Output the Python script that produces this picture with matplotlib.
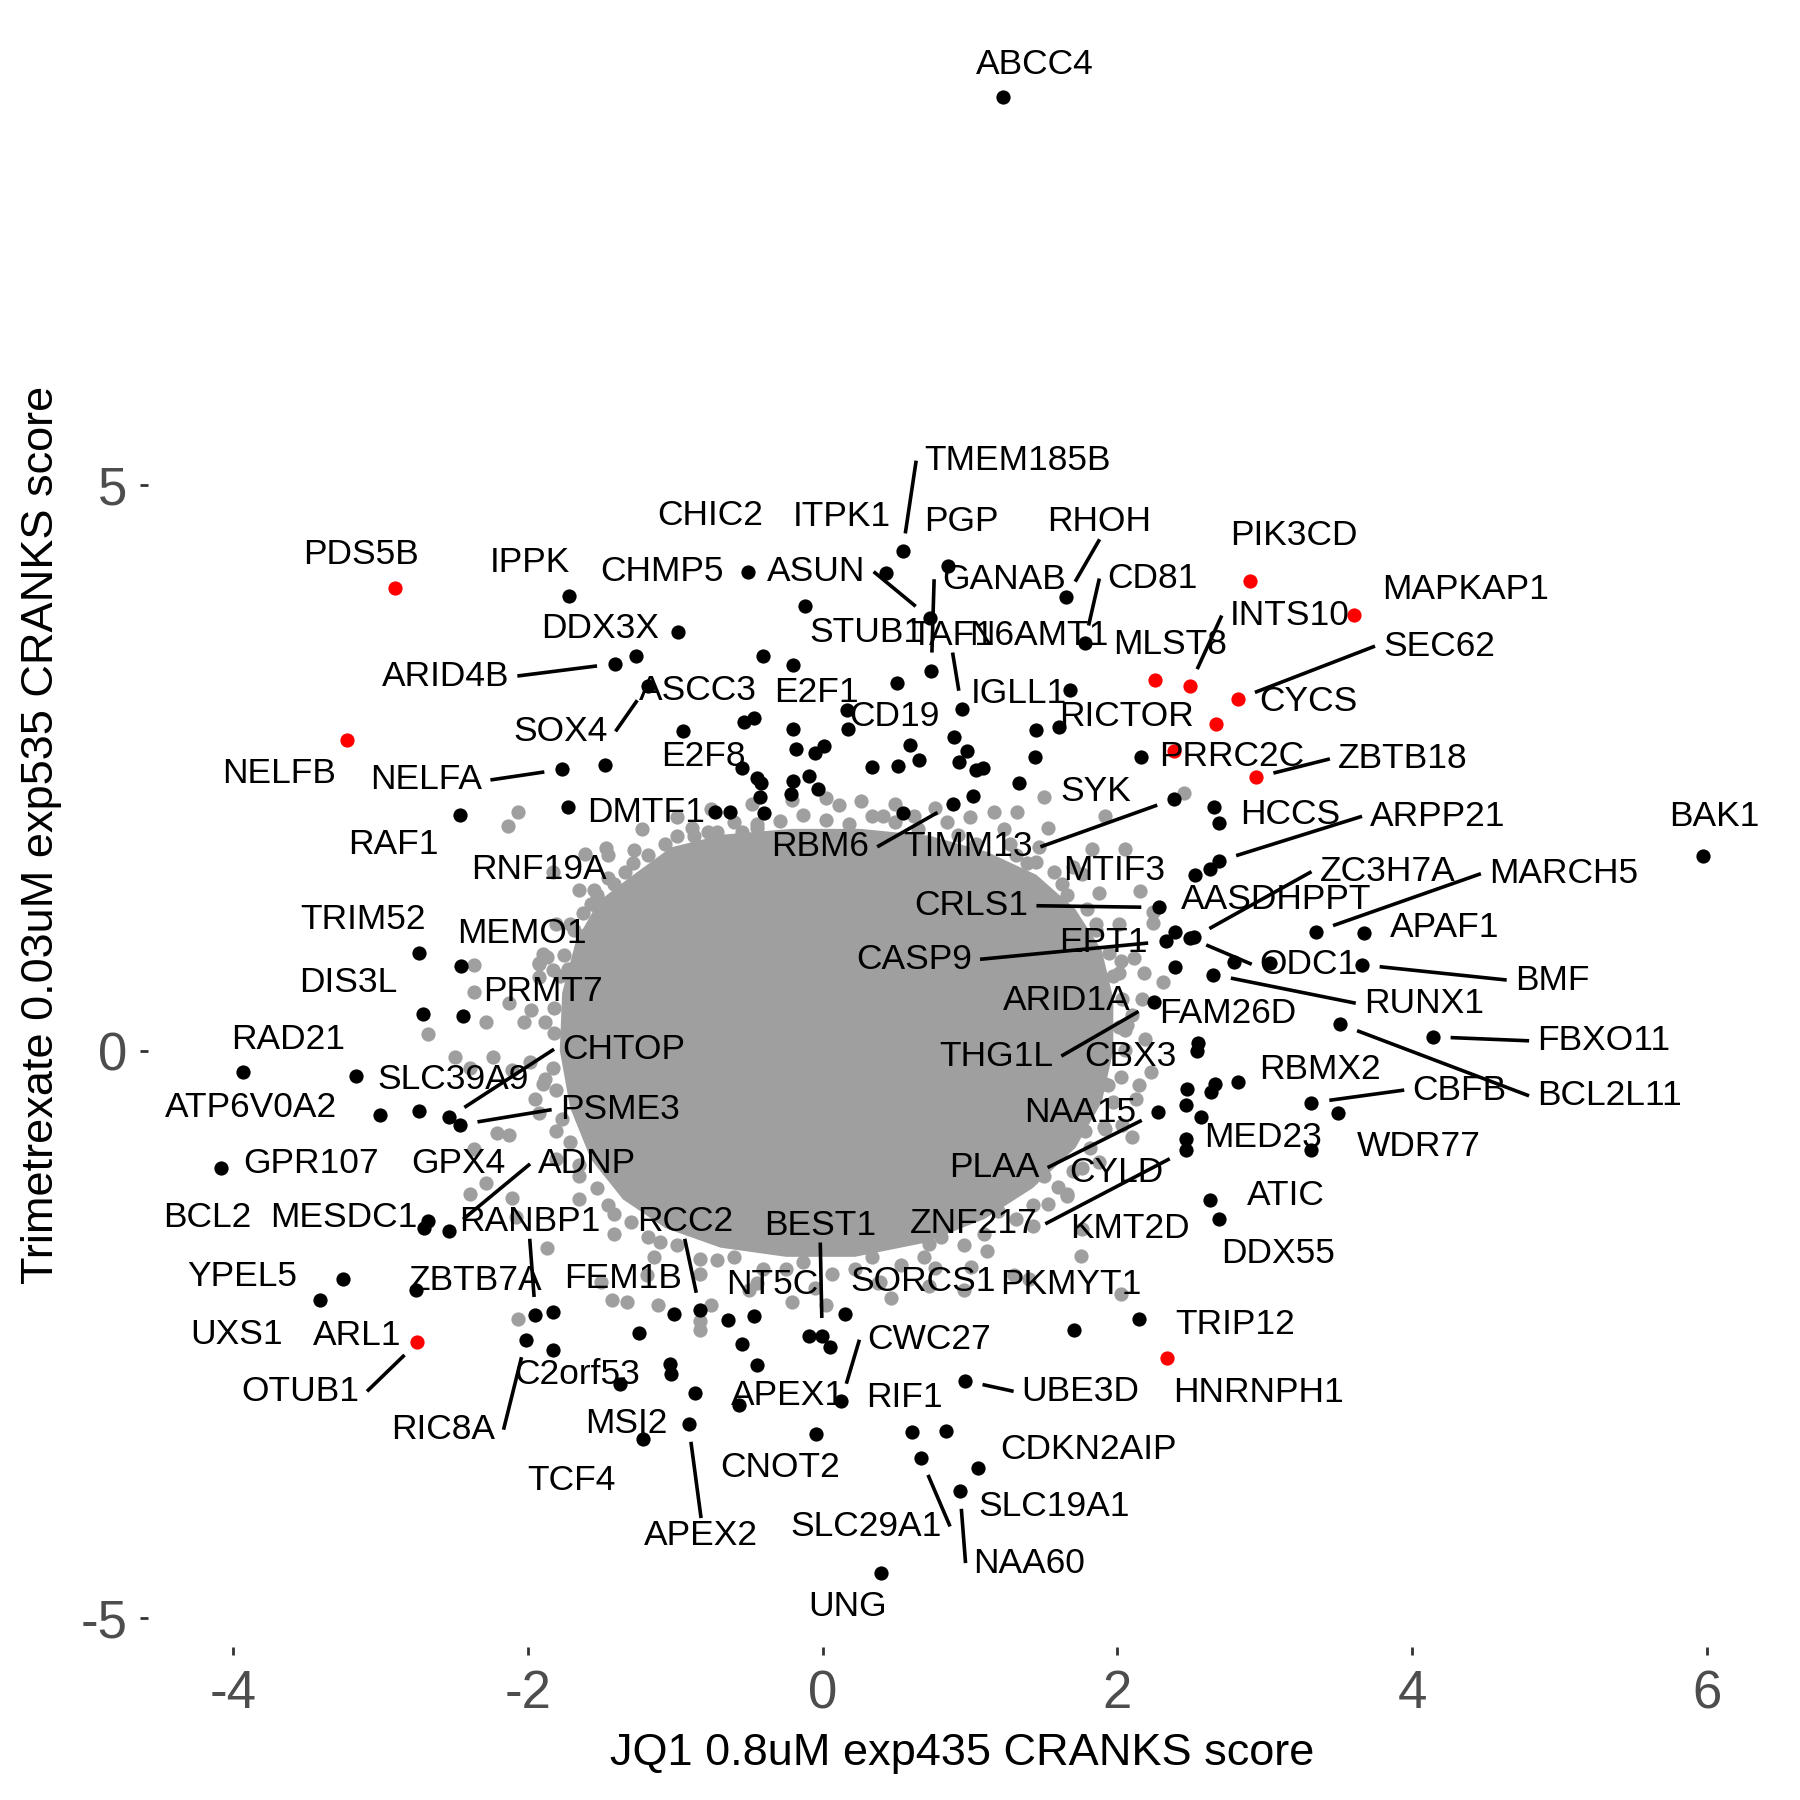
import math
import matplotlib
matplotlib.use("Agg")
import matplotlib.pyplot as plt

# outline of the solid centre of the gray cloud
core_x = [-1.317, -1.029, -0.678, -0.210, 0.257, 0.725, 1.115, 1.450, 1.715, 1.894, 1.972, 1.972, 1.894,
          1.715, 1.426, 1.099, 0.686, 0.218, -0.249, -0.694, -1.068, -1.356, -1.574, -1.715, -1.785,
          -1.769, -1.676, -1.520]
core_y = [1.530, 1.803, 1.915, 1.966, 1.966, 1.905, 1.763, 1.560, 1.256, 0.892, 0.466, 0.010, -0.446,
          -0.851, -1.206, -1.479, -1.692, -1.814, -1.814, -1.733, -1.560, -1.307, -0.952, -0.496, 0.010,
          0.517, 0.973, 1.327]

# gray (non-hit) genes around the edge of the cloud
gray_x = [-2.067, -2.139, -1.617, -1.469, -1.280, -1.106, -0.885, -0.781, -0.677, -0.547, -1.833, -1.574,
          -1.521, -1.404, -1.301, -1.288, -1.613, -1.898, -1.924, -2.365, -1.729, -1.664, 1.503, 2.451,
          1.165, 1.321, 1.528, 1.918, 1.828, 2.048, 2.152, 2.243, 2.243, 0.113, 0.412, 0.620, -0.446,
          -0.680, 1.450, 1.762, 2.023, 2.178, 2.308, 2.100, 2.048, 2.230, 1.918, 2.126, 2.100, 1.918,
          1.684, 1.762, 1.659, 1.528, 1.762, 1.750, 2.023, 1.295, 1.399, 1.009, 0.957, 0.723, 0.386,
          0.464, 0.022, -0.212, -0.498, -0.758, -0.836, 0.581, 0.723, -1.872, -1.924, -2.365, -2.132,
          -2.028, -2.288, -2.677, -2.496, -2.392, -2.236, -2.106, -1.898, -1.950, -2.210, -2.132, -2.365,
          -2.392, -2.288, -2.106, -2.081, -1.872, -2.067, -1.430, -1.327, -1.118, -0.833, -1.196, -1.508,
          -1.341, -1.068, -0.717, -0.288, 0.179, 0.647, 1.037, 1.387, 1.660, 1.855, 1.972, 2.011, 1.933,
          1.777, 1.504, 1.192, 0.803, 0.335, -0.132, -0.600, -0.990, -1.302, -1.535, -1.715, -1.808,
          -1.824, -1.785, -1.691, -1.535,
          -1.457, -1.224, -0.990, -0.756, -0.483, -0.210, 0.023, 0.257, 0.491, 0.764, 0.998, 1.231, 1.465,
          1.699, 1.878, 2.011, 2.112, 2.167, 2.190, 2.143, 2.034, 1.878, 1.660, 1.426, 1.115, 0.764,
          0.374, -0.055, -0.444, -0.834, -1.146, -1.419, -1.652, -1.808, -1.925, -1.987, -1.980, -1.925,
          -1.808, -1.652,
          -1.286, -0.990, -0.600, -0.132, 0.335, 0.842, 1.270, 1.567, 1.793, 1.941, 2.034, 2.050, 1.972,
          1.816, 1.598, 1.309, 0.959, 0.530, 0.062, -0.405, -0.834, -1.185, -1.457, -1.652, -1.769,
          -1.832, -1.824, -1.754, -1.629, -1.457,
          -1.418, -1.185, -0.873, -0.444, 0.023, 0.491, 0.920, 1.309, 1.621, 1.855, 2.011, 2.065, 2.026,
          1.910, 1.699, 1.426, 1.091, 0.686, 0.218, -0.249, -0.717, -1.107, -1.419, -1.652, -1.808,
          -1.886, -1.886, -1.832, -1.715, -1.551]
gray_y = [2.118, 1.993, 1.746, 1.800, 1.780, 1.570, 1.976, 1.942, 1.800, 1.942, 1.588, 1.300,
          1.249, 1.334, 1.165, 1.436, 1.030, 0.861, 0.777, 0.760, 0.726, 0.709, 2.246, 2.287,
          2.111, 2.111, 1.976, 2.077, 1.790, 1.790, 1.418, 1.233, 1.132, 2.178, 2.077, 2.077, 1.976,
          1.807, 1.672, 1.570, 0.797, 0.696, 0.611, 0.324, 0.189, -0.182, -0.284, -0.418, -0.757, -0.689,
          -0.757, -1.026, -1.263, -1.348, -1.567, -1.803, -2.141, -1.973, -2.006, -1.905, -2.107, -2.074, -2.040,
          -2.175, -2.242, -2.209, -2.107, -2.242, -2.378, -1.601, -1.702, 0.831, 0.662, 0.527, 0.426,
          0.256, 0.256, 0.155, -0.048, -0.149, -0.048, -0.165, -0.284, -0.418, -0.722, -0.740, -0.858,
          -1.263, -1.162, -1.297, -1.466, -1.736, -2.361, -2.192, -2.209, -2.242, -2.462, -1.973, -2.040,
          1.581, 1.834, 1.935, 2.037, 2.006, 1.966, 1.834, 1.662, 1.378, 1.074, 0.669, 0.213, -0.294,
          -0.699, -1.104, -1.408, -1.641, -1.814, -1.864, -1.814, -1.712, -1.510, -1.206, -0.800, -0.344,
          0.162, 0.669, 1.074, 1.378,
          1.733, 1.966, 2.067, 2.138, 2.189, 2.219, 2.239, 2.209, 2.189, 2.148, 2.067, 1.966, 1.803,
          1.631, 1.398, 1.125, 0.821, 0.466, 0.111, -0.294, -0.648, -0.973, -1.277, -1.540, -1.763, -1.915,
          -2.047, -2.087, -2.047, -1.966, -1.814, -1.611, -1.307, -0.952, -0.547, -0.091, 0.365, 0.770,
          1.125, 1.429,
          1.662, 1.905, 2.026, 2.087, 2.077, 2.026, 1.834, 1.581, 1.256, 0.871, 0.466, 0.010, -0.446,
          -0.851, -1.196, -1.479, -1.712, -1.885, -1.966, -1.925, -1.834, -1.641, -1.358, -1.003, -0.598,
          -0.142, 0.385, 0.851, 1.226, 1.530,
          1.479, 1.733, 1.905, 2.006, 2.047, 2.026, 1.915, 1.733, 1.479, 1.125, 0.689, 0.233, -0.223,
          -0.669, -1.054, -1.358, -1.611, -1.814, -1.925, -1.925, -1.844, -1.682, -1.439, -1.104, -0.699,
          -0.243, 0.263, 0.719, 1.125, 1.429]

# hit genes
black_x = [1.224, 0.542, 0.429, 0.850, -0.507, -1.722, -0.121, 0.725, 1.652, 1.777, -0.982, -1.267,
           -1.411, -0.405, -0.199, 0.737, -1.189, 0.503, 0.943, 1.680, 0.164, -0.538, -0.464, -0.951,
           -0.199, 0.171, 1.446, 1.606, 0.889, 0.592, 0.008, -0.179, 0.982, -0.055, 0.655, 1.438,
           2.159, 0.335, 0.511, 0.927, 1.037, 1.087, -0.549, -1.481, -1.769, -0.448, -0.417, -0.199,
           -0.094, -0.035, -0.218, -0.425, 1.333, 1.021, -1.730, -0.733, -0.633, -0.397, -2.459, 0.542,
           0.885, 2.385, 2.658, 2.689, 2.689, 2.627, 2.529, 5.975, 2.284, 2.393, 2.330, 2.490,
           2.517, 2.393, 2.650, 2.790, 3.036, 3.348, 3.671, 3.658, 3.512, 4.139, 2.249, 2.549,
           2.541, 2.819, 2.663, 2.634, 2.469, 2.463, 2.564, 2.274, 2.463, 2.463, 3.317, 3.500,
           3.317, 2.628, 2.689, 1.705, 2.147, 0.965, 0.125, -0.095, -0.004, 0.048, 0.152, -0.048,
           0.606, 0.835, 0.666, 1.056, 0.931, 0.397, -0.641, -0.464, -0.549, -0.446, -0.567, -0.833,
           -1.007, -1.249, -1.040, -1.028, -1.379, -0.867, -0.911, -1.217, -1.833, -1.950, -2.015, -1.833,
           -2.761, -3.254, -3.410, -2.677, -2.704, -2.535, -4.086, -3.932, -3.166, -3.002, -2.743, -2.535,
           -2.464, -2.712, -2.443, -2.743, -2.457]
black_y = [8.430, 4.418, 4.225, 4.286, 4.235, 4.022, 3.931, 3.830, 4.012, 3.607, 3.708, 3.496,
           3.425, 3.496, 3.414, 3.364, 3.232, 3.252, 3.029, 3.192, 3.019, 2.908, 2.948, 2.827,
           2.847, 2.847, 2.837, 2.867, 2.776, 2.705, 2.695, 2.675, 2.655, 2.634, 2.574, 2.604,
           2.604, 2.513, 2.523, 2.553, 2.482, 2.503, 2.503, 2.533, 2.492, 2.411, 2.371, 2.391,
           2.432, 2.320, 2.270, 2.249, 2.371, 2.259, 2.158, 2.118, 2.118, 2.107, 2.087, 2.107,
           2.189, 2.229, 2.158, 2.016, 1.682, 1.611, 1.560, 1.722, 1.272, 1.054, 0.973, 1.003,
           1.008, 0.750, 0.679, 0.790, 0.780, 1.059, 1.049, 0.765, 0.240, 0.129, 0.433, 0.071,
           0.000, -0.274, -0.291, -0.360, -0.334, -0.469, -0.583, -0.537, -0.773, -0.874, -0.453, -0.544,
           -0.874, -1.314, -1.484, -2.462, -2.361, -2.908, -3.087, -2.513, -2.513, -2.614, -2.317, -3.381,
           -3.364, -3.351, -3.594, -3.678, -3.881, -4.610, -2.368, -2.335, -2.581, -2.766, -3.121, -2.287,
           -2.320, -2.489, -2.759, -2.850, -2.935, -3.019, -3.290, -3.425, -2.303, -2.327, -2.546, -2.637,
           -2.107, -2.006, -2.199, -1.500, -1.560, -1.584, -1.033, -0.182, -0.216, -0.560, -0.530, -0.581,
           -0.648, 0.334, 0.314, 0.871, 0.753]

# highlighted genes
red_x = [-2.901, -3.231, 2.897, 3.603, 2.256, 2.490, 2.819, 2.667, 2.385, 2.940, -2.751, 2.339]
red_y = [4.090, 2.749, 4.154, 3.853, 3.283, 3.232, 3.114, 2.892, 2.655, 2.420, -2.570, -2.708]

label_names = ["ABCC4", "TMEM185B", "CHIC2", "ITPK1", "PGP", "RHOH", "PIK3CD", "PDS5B", "IPPK", "CHMP5",
               "ASUN", "GANAB", "CD81", "MAPKAP1", "INTS10", "DDX3X", "STUB1", "TAF1", "N6AMT1", "MLST8",
               "SEC62", "ARID4B", "ASCC3", "E2F1", "IGLL1", "CYCS", "CD19", "RICTOR", "SOX4", "E2F8",
               "PRRC2C", "ZBTB18", "NELFB", "NELFA", "SYK", "DMTF1", "HCCS", "ARPP21", "BAK1", "RAF1",
               "RBM6", "TIMM13", "RNF19A", "MTIF3", "ZC3H7A", "MARCH5", "AASDHPPT", "CRLS1", "TRIM52",
               "APAF1", "MEMO1", "EPT1", "CASP9", "ODC1", "BMF", "DIS3L", "PRMT7", "ARID1A", "RUNX1",
               "FAM26D", "RAD21", "FBXO11", "CHTOP", "THG1L", "CBX3", "SLC39A9", "RBMX2", "CBFB",
               "BCL2L11", "ATP6V0A2", "PSME3", "NAA15", "MED23", "WDR77", "GPR107", "GPX4", "ADNP",
               "PLAA", "CYLD", "ATIC", "BCL2", "MESDC1", "RANBP1", "RCC2", "ZNF217", "BEST1", "KMT2D",
               "DDX55", "YPEL5", "FEM1B", "ZBTB7A", "NT5C", "SORCS1", "PKMYT1", "TRIP12", "UXS1", "ARL1",
               "CWC27", "C2orf53", "OTUB1", "HNRNPH1", "UBE3D", "APEX1", "RIF1", "MSI2", "RIC8A",
               "CDKN2AIP", "CNOT2", "TCF4", "SLC19A1", "SLC29A1", "APEX2", "NAA60", "UNG"]
label_x = [1.442, 1.321, -0.764, 0.131, 0.944, 1.879, 3.196, -3.133, -1.987, -1.091,
           -0.043, 1.230, 2.238, 4.365, 3.169, -1.508, 0.296, 0.881, 1.465, 2.360,
           4.182, -2.560, -0.846, -0.043, 1.334, 3.299, 0.489, 2.062, -1.781, -0.807,
           2.775, 3.936, -3.687, -2.690, 1.853, -1.196, 3.169, 4.174, 6.053, -2.911,
           -0.017, 0.983, -1.924, 1.976, 3.832, 5.027, 3.079, 1.009, -3.119,
           4.221, -2.041, 1.906, 0.620, 3.299, 4.949, -3.223, -1.898, 1.659, 4.079,
           2.751, -3.626, 5.300, -1.352, 1.178, 2.087, -2.509, 3.377, 4.320,
           5.339, -3.881, -1.379, 1.750, 2.987, 4.045, -3.470, -2.470, -1.599,
           1.165, 1.996, 3.143, -4.178, -3.249, -1.989, -0.937, 1.022, -0.017, 2.087,
           3.091, -3.938, -1.358, -2.353, -0.342, 0.684, 1.684, 2.802, -3.977, -3.158,
           0.723, -1.664, -3.548, 2.954, 1.750, -0.238, 0.554, -1.333, -2.574,
           1.801, -0.290, -1.703, 1.567, 0.296, -0.826, 1.403, 0.171]
label_y = [8.714, 5.218, 4.732, 4.729, 4.678, 4.678, 4.559, 4.387, 4.316, 4.235,
           4.238, 4.171, 4.177, 4.076, 3.850, 3.739, 3.698, 3.678, 3.678, 3.597,
           3.580, 3.316, 3.192, 3.174, 3.158, 3.090, 2.956, 2.956, 2.827, 2.601,
           2.601, 2.584, 2.452, 2.398, 2.297, 2.111, 2.094, 2.077, 2.077, 1.824,
           1.807, 1.807, 1.604, 1.594, 1.588, 1.570, 1.345, 1.287, 1.162,
           1.091, 1.041, 0.966, 0.814, 0.770, 0.631, 0.611, 0.527, 0.453, 0.426,
           0.334, 0.104, 0.094, 0.020, -0.041, -0.048, -0.250, -0.155, -0.341,
           -0.392, -0.496, -0.514, -0.537, -0.757, -0.841, -0.993, -0.993, -0.993,
           -1.026, -1.067, -1.270, -1.469, -1.466, -1.500, -1.500, -1.523, -1.533, -1.567,
           -1.786, -1.989, -2.006, -2.023, -2.057, -2.029, -2.057, -2.411, -2.496, -2.513,
           -2.546, -2.850, -3.002, -3.009, -3.002, -3.043, -3.053, -3.283, -3.341,
           -3.519, -3.678, -3.789, -4.022, -4.195, -4.276, -4.519, -4.904]

# labels that ggrepel joined to their point with a segment
seg_names = ["TMEM185B", "RHOH", "ASUN", "GANAB", "CD81", "INTS10", "TAF1", "SEC62", "ARID4B", "SOX4",
             "ZBTB18", "NELFA", "ARPP21", "RBM6", "TIMM13", "ZC3H7A", "MARCH5", "CRLS1", "CASP9", "ODC1",
             "BMF", "RUNX1", "FBXO11", "CHTOP", "THG1L", "CBFB", "BCL2L11", "PSME3", "ADNP", "PLAA",
             "RANBP1", "RCC2", "ZNF217", "BEST1", "CWC27", "OTUB1", "UBE3D", "RIC8A", "SLC29A1",
             "APEX2", "NAA60"]
seg_x = [0.542, 1.652, 0.725, 0.737, 1.777, 2.490, 0.943, 2.819, -1.411, -1.189,
         2.940, -1.769, 2.689, 0.885, 2.385, 2.517, 3.348, 2.284, 2.330, 2.490,
         3.658, 2.650, 4.139, -2.535, 2.249, 3.317, 3.512, -2.464, -2.535, 2.274,
         -1.950, -0.833, 2.463, -0.004, 0.125, -2.751, 0.965, -2.015, 0.666,
         -0.911, 0.931]
seg_y = [4.418, 4.012, 3.830, 3.364, 3.607, 3.232, 3.029, 3.114, 3.425, 3.232,
         2.420, 2.492, 1.682, 2.189, 2.229, 1.008, 1.059, 1.272, 0.973, 1.003,
         0.765, 0.679, 0.129, -0.581, 0.433, -0.453, 0.240, -0.648, -1.584, -0.537,
         -2.327, -2.287, -0.874, -2.513, -3.087, -2.570, -2.908, -2.546, -3.594,
         -3.290, -3.881]

GRAY = "#9f9f9f"
PT = 105
PAD_X, PAD_Y, GAP = 8, 1, 18   # pixels: label box padding and gap left before the point

plt.rcParams["font.family"] = ["Liberation Sans", "DejaVu Sans"]
plt.rcParams["axes.unicode_minus"] = False

fig = plt.figure(figsize=(18, 18), dpi=100)
ax = fig.add_axes([0.0822, 0.085, 0.9045, 0.902])
ax.set_xlim(-4.58, 6.47)
ax.set_ylim(-5.26, 9.08)

ax.fill(core_x, core_y, color=GRAY, lw=0, zorder=1)
ax.scatter(gray_x, gray_y, s=PT, c=GRAY, lw=0, zorder=1)
ax.scatter(black_x, black_y, s=PT, c="black", lw=0, zorder=2)
ax.scatter(red_x, red_y, s=PT, c="red", lw=0, zorder=2)

texts = {}
for name, lx, ly in zip(label_names, label_x, label_y):
    texts[name] = ax.text(lx, ly, name, ha="center", va="center", fontsize=25.5,
                          color="black", zorder=4)

# ggrepel-style segments: from the nearest side of the label box towards the point
fig.canvas.draw()
renderer = fig.canvas.get_renderer()
inv = ax.transData.inverted()
for name, px, py in zip(seg_names, seg_x, seg_y):
    bb = texts[name].get_window_extent(renderer)
    x0, x1 = bb.x0 - PAD_X, bb.x1 + PAD_X
    y0, y1 = bb.y0 - PAD_Y, bb.y1 + PAD_Y
    xm, ym = (x0 + x1) / 2, (y0 + y1) / 2
    p = ax.transData.transform((px, py))
    sides = [(x0, ym), (x1, ym), (xm, y0), (xm, y1)]
    a = min(sides, key=lambda q: (q[0] - p[0]) ** 2 + (q[1] - p[1]) ** 2)
    d = math.hypot(p[0] - a[0], p[1] - a[1])
    if d <= GAP:
        continue
    end = (p[0] - (p[0] - a[0]) * GAP / d, p[1] - (p[1] - a[1]) * GAP / d)
    (sx, sy), (ex, ey) = inv.transform([a, end])
    ax.plot([sx, ex], [sy, ey], color="black", lw=2.6, zorder=3, solid_capstyle="butt")

ax.set_xticks([-4, -2, 0, 2, 4, 6])
ax.set_yticks([-5, 0, 5])
for s in ax.spines.values():
    s.set_visible(False)
ax.tick_params(length=6, width=2, color="#333333", labelsize=38, labelcolor="#4D4D4D")
ax.tick_params(axis="x", pad=10)
ax.tick_params(axis="y", pad=9)

ax.set_xlabel("JQ1 0.8uM exp435 CRANKS score", fontsize=32.5, color="black")
ax.set_ylabel("Trimetrexate 0.03uM exp535 CRANKS score", fontsize=32.5, color="black")
ax.xaxis.label.set_va("center")
ax.yaxis.label.set_va("center")
ax.xaxis.set_label_coords(0.5, -0.0653)
ax.yaxis.set_label_coords(-0.0651, 0.5)

fig.savefig("out.png", dpi=100, facecolor="white")
